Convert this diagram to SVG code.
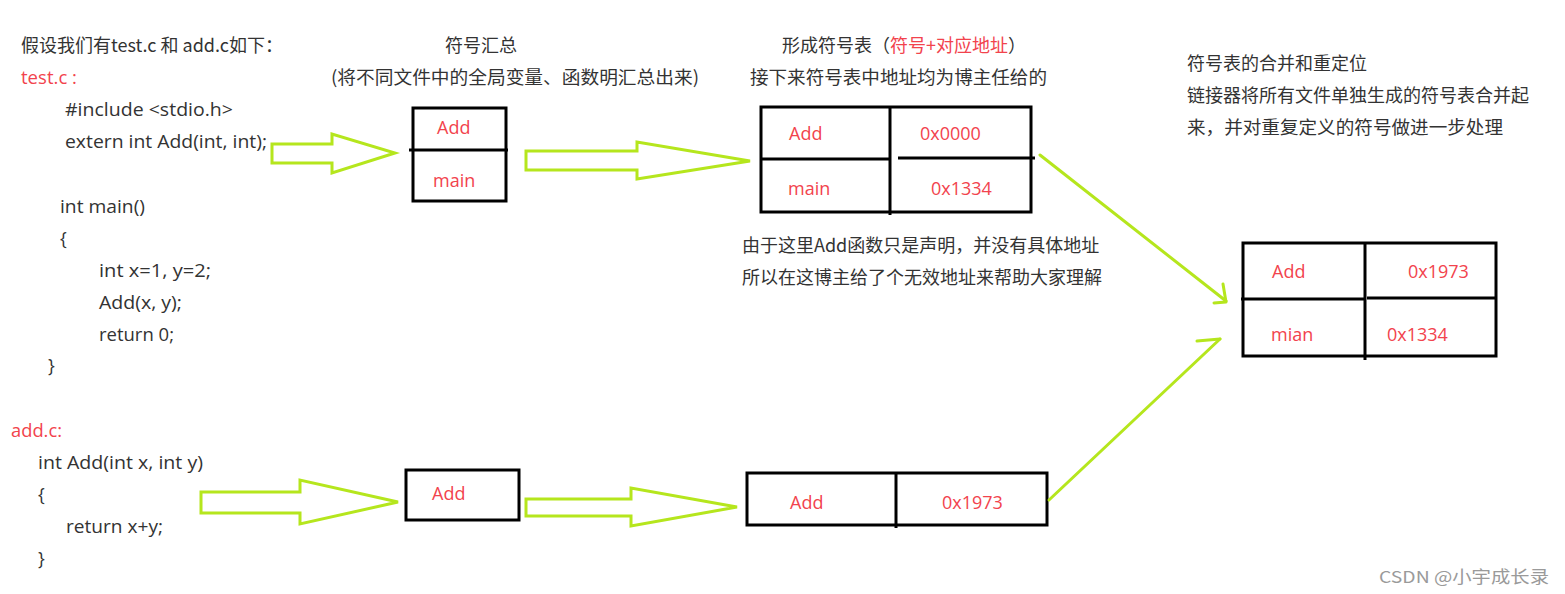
<svg xmlns="http://www.w3.org/2000/svg" width="1565" height="594" viewBox="0 0 1565 594">
<style>
text{font-family:"Open Sans","Noto Sans CJK SC",sans-serif;font-size:18px;fill:#333}
.r{fill:#f2434d}
.cn{font-family:"Noto Sans CJK SC","Open Sans",sans-serif}
.box{fill:none;stroke:#000;stroke-width:3}
.ln{stroke:#000;stroke-width:3;fill:none}
.arr{fill:#fff;stroke:#b5e61d;stroke-width:3;stroke-linejoin:miter}
.gl{fill:none;stroke:#b5e61d;stroke-width:3;stroke-linecap:round;stroke-linejoin:round}
.wm{font-family:"Noto Sans CJK SC","Open Sans",sans-serif;font-size:16.5px;fill:#9a9a9a}
</style>
<rect width="1565" height="594" fill="#fff"/>

<g id="code-test">
<text class="cn" x="21" y="52" textLength="262" lengthAdjust="spacingAndGlyphs">假设我们有test.c 和 add.c如下：</text>
<text class="r" x="21" y="84" textLength="56" lengthAdjust="spacingAndGlyphs">test.c :</text>
<text x="65" y="116" textLength="168" lengthAdjust="spacingAndGlyphs">#include &lt;stdio.h&gt;</text>
<text x="65" y="148" textLength="202" lengthAdjust="spacingAndGlyphs">extern int Add(int, int);</text>
<text x="60" y="213" textLength="85" lengthAdjust="spacingAndGlyphs">int main()</text>
<text x="60" y="245">{</text>
<text x="99" y="277" textLength="112" lengthAdjust="spacingAndGlyphs">int x=1, y=2;</text>
<text x="99" y="309" textLength="83" lengthAdjust="spacingAndGlyphs">Add(x, y);</text>
<text x="99" y="341" textLength="75" lengthAdjust="spacingAndGlyphs">return 0;</text>
<text x="48" y="372">}</text>
</g>

<g id="code-add">
<text class="r" x="11" y="437" textLength="51" lengthAdjust="spacingAndGlyphs">add.c:</text>
<text x="38" y="469" textLength="165" lengthAdjust="spacingAndGlyphs">int Add(int x, int y)</text>
<text x="38" y="501">{</text>
<text x="66" y="533" textLength="97" lengthAdjust="spacingAndGlyphs">return x+y;</text>
<text x="38" y="565">}</text>
</g>

<g id="title-summary">
<text class="cn" x="445" y="52">符号汇总</text>
<text class="cn" x="331" y="84" textLength="368" lengthAdjust="spacingAndGlyphs">(将不同文件中的全局变量、函数明汇总出来)</text>
</g>

<g id="title-table">
<text class="cn" x="782" y="52">形成符号表（<tspan class="r">符号+对应地址</tspan>）</text>
<text class="cn" x="750" y="84" textLength="297" lengthAdjust="spacingAndGlyphs">接下来符号表中地址均为博主任给的</text>
</g>

<g id="title-merge">
<text class="cn" x="1187" y="70">符号表的合并和重定位</text>
<text class="cn" x="1187" y="102">链接器将所有文件单独生成的符号表合并起</text>
<text class="cn" x="1187" y="134" textLength="316" lengthAdjust="spacingAndGlyphs">来，并对重复定义的符号做进一步处理</text>
</g>

<g id="note">
<text class="cn" x="742" y="252">由于这里Add函数只是声明，并没有具体地址</text>
<text class="cn" x="742" y="284">所以在这博主给了个无效地址来帮助大家理解</text>
</g>

<g id="sym-summary-test">
<rect class="box" x="413" y="108" width="93" height="93"/>
<line class="ln" x1="409" y1="150" x2="508" y2="150"/>
<text class="r" x="437" y="134">Add</text>
<text class="r" x="433" y="187">main</text>
</g>

<g id="sym-table-test">
<rect class="box" x="761" y="107" width="270" height="105"/>
<line class="ln" x1="890" y1="107" x2="890" y2="215"/>
<line class="ln" x1="761" y1="159" x2="890" y2="159"/>
<line class="ln" x1="898" y1="158" x2="1035" y2="158"/>
<text class="r" x="789" y="140">Add</text>
<text class="r" x="920" y="140">0x0000</text>
<text class="r" x="788" y="195">main</text>
<text class="r" x="931" y="195">0x1334</text>
</g>

<g id="sym-summary-add">
<rect class="box" x="406" y="470" width="113" height="50"/>
<text class="r" x="432" y="500">Add</text>
</g>

<g id="sym-table-add">
<rect class="box" x="747" y="473" width="300" height="52"/>
<line class="ln" x1="896" y1="473" x2="896" y2="528"/>
<text class="r" x="790" y="509">Add</text>
<text class="r" x="942" y="509">0x1973</text>
</g>

<g id="sym-table-merged">
<rect class="box" x="1243" y="243" width="253" height="113"/>
<line class="ln" x1="1365" y1="243" x2="1365" y2="360"/>
<line class="ln" x1="1241" y1="299" x2="1366" y2="299"/>
<line class="ln" x1="1367" y1="298" x2="1496" y2="298"/>
<text class="r" x="1272" y="278">Add</text>
<text class="r" x="1408" y="278">0x1973</text>
<text class="r" x="1271" y="341">mian</text>
<text class="r" x="1387" y="341">0x1334</text>
</g>

<g id="connectors">
<polygon class="arr" points="272,144 332,144 332,134 395,153 332,173 332,163 272,163"/>
<polygon class="arr" points="526,151 637,151 637,142 750,161 637,179 637,170 526,170"/>
<polygon class="arr" points="201,492 300,492 300,480 398,502 300,524 300,513 201,513"/>
<polygon class="arr" points="526,499 631,499 631,488 737,507 631,526 631,516 526,516"/>
<polyline class="gl" points="1040,155 1226,301"/>
<polyline class="gl" points="1223,284 1226,302 1214,303"/>
<polyline class="gl" points="1049,500 1220,339"/>
<polyline class="gl" points="1197,341 1220,339"/>
</g>

<g id="watermark">
<text class="wm" x="1379" y="583" textLength="170" lengthAdjust="spacingAndGlyphs">CSDN @小宇成长录</text>
</g>
</svg>
